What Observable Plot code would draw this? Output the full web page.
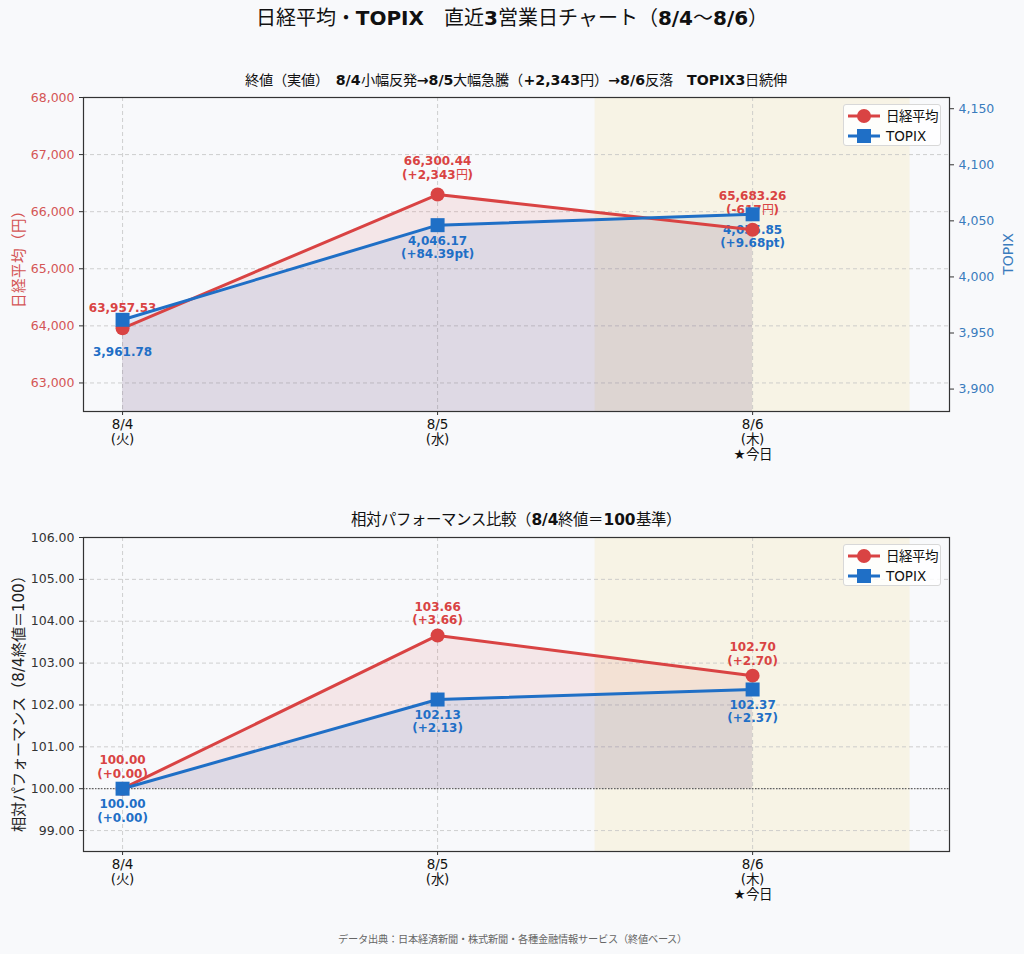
<!DOCTYPE html>
<html><head><meta charset="utf-8">
<script src="https://cdn.jsdelivr.net/npm/d3@7"></script>
<script src="https://cdn.jsdelivr.net/npm/@observablehq/plot@0.6"></script>
<style>
@font-face{font-family:"CJKR";src:local("Noto Sans CJK JP Regular"),local("NotoSansCJKjp-Regular"),local("Noto Sans CJK JP");font-weight:100 900;}
body{margin:0;background:#f8f9fb;width:1024px;height:954px;position:relative;overflow:hidden;font-family:"DejaVu Sans","CJKR","Noto Sans CJK JP",sans-serif;}
.abs{position:absolute;}
.ttl{left:0;width:1024px;text-align:center;font-family:"DejaVu Sans","CJKR","Noto Sans CJK JP",sans-serif;font-weight:bold;color:#111;}
.sub{left:83px;width:866px;text-align:center;font-family:"DejaVu Sans","CJKR","Noto Sans CJK JP",sans-serif;font-weight:bold;font-size:14.2px;line-height:18px;color:#111;}
.ylab{transform:translate(-50%,-50%) rotate(-90deg);white-space:nowrap;font-family:"DejaVu Sans","CJKR","Noto Sans CJK JP",sans-serif;font-size:14.6px;}
.legend{width:98px;height:42px;border:1px solid #d8d8d8;border-radius:3px;background:rgba(255,255,255,0.85);box-sizing:border-box;}
.legend div{position:absolute;left:42px;font-family:"DejaVu Sans","CJKR","Noto Sans CJK JP",sans-serif;font-size:13.5px;line-height:16px;color:#111;}
.legend svg{position:absolute;left:3px;}
.chart{left:0;}
</style></head><body>
<script>
// ---- data ----
const days = ["8/4\n(火)", "8/5\n(水)", "8/6\n(木)\n★今日"];
const nikkei = [63957.53, 66300.44, 65683.26];
const topix = [3961.78, 4046.17, 4055.85];
const nikkeiRel = [100.00, 103.66, 102.70];
const topixRel = [100.00, 102.13, 102.37];
const nikkeiTicks = [63000, 64000, 65000, 66000, 67000, 68000];
const topixTicks = [3900, 3950, 4000, 4050, 4100, 4150];
const relTicks = [99, 100, 101, 102, 103, 104, 105, 106];
const todayBand = [1.5, 2.5];
const seriesNames = ["日経平均", "TOPIX"];

// ---- helpers ----
const RED = "#d94343", BLUE = "#1f6fc6";
const loc = d3.formatLocale({decimal: ".", thousands: ",", grouping: [3], currency: ["", ""], minus: "-"});
const f2 = loc.format(",.2f"), f0s = loc.format("+,.0f"), f2s = loc.format("+,.2f"), f0 = loc.format(",.0f");
const xDomain = [-0.124, 2.625];
const yN = [62500, 68000], yT = [3880, 4160], yR = [98.5, 106];
const toLeft = v => yN[0] + (v - yT[0]) * (yN[1] - yN[0]) / (yT[1] - yT[0]);
const fromLeft = v => yT[0] + (v - yN[0]) * (yT[1] - yT[0]) / (yN[1] - yN[0]);
const FONT = "'DejaVu Sans','CJKR','Noto Sans CJK JP',sans-serif";

const topData = nikkei.map((v, i) => ({
  i, n: v, t: toLeft(topix[i]),
  nLabel: i === 0 ? f2(v) : f2(v) + "\n(" + f0s(v - nikkei[i - 1]) + "円)",
  tLabel: i === 0 ? f2(topix[i]) : f2(topix[i]) + "\n(" + f2s(topix[i] - topix[i - 1]) + "pt)"
}));
const relData = nikkeiRel.map((v, i) => ({
  i, n: v, t: topixRel[i],
  nLabel: f2(v) + "\n(" + f2s(v - 100) + ")",
  tLabel: f2(topixRel[i]) + "\n(" + f2s(topixRel[i] - 100) + ")"
}));

const gridStyle = {stroke: "#c4c4c4", strokeDasharray: "4,3", strokeWidth: 0.8};
const base = (yDomain) => ({
  width: 1024, height: 420, marginTop: 37, marginBottom: 69, marginLeft: 83, marginRight: 75,
  x: {domain: xDomain}, y: {domain: yDomain},
  style: {background: "transparent", fontFamily: FONT, overflow: "visible"}
});
const xAxis = () => Plot.axisX({ticks: [0, 1, 2], tickFormat: i => days[i], label: null, fontSize: 13.5, lineHeight: 1.12, tickSize: 4, stroke: "#333", fill: "#111", tickPadding: 3});
const band = () => Plot.rect([todayBand], {x1: d => d[0], x2: d => d[1], fill: "#f3d77a", fillOpacity: 0.17});

// ---- top chart ----
const chart1 = Plot.plot({
  ...base(yN),
  marks: [
    band(),
    Plot.ruleY(nikkeiTicks, gridStyle),
    Plot.ruleX([0, 1, 2], gridStyle),
    Plot.areaY(topData, {x: "i", y1: yN[0], y2: "n", fill: RED, fillOpacity: 0.1}),
    Plot.areaY(topData, {x: "i", y1: yN[0], y2: "t", fill: BLUE, fillOpacity: 0.1}),
    Plot.text(topData, {x: "i", y: "n", text: "nLabel", lineAnchor: "bottom", dy: -16, fill: RED, fontWeight: "bold", fontSize: 12, lineHeight: 1.12}),
    Plot.text(topData.filter(d => d.i === 0), {x: "i", y: "t", text: "tLabel", lineAnchor: "top", dy: 27, fill: BLUE, fontWeight: "bold", fontSize: 12, lineHeight: 1.12}),
    Plot.text(topData.filter(d => d.i > 0), {x: "i", y: "t", text: "tLabel", lineAnchor: "top", dy: 10, fill: BLUE, fontWeight: "bold", fontSize: 12, lineHeight: 1.12}),
    Plot.line(topData, {x: "i", y: "n", stroke: RED, strokeWidth: 3}),
    Plot.line(topData, {x: "i", y: "t", stroke: BLUE, strokeWidth: 3}),
    Plot.dot(topData, {x: "i", y: "n", r: 7, fill: RED, symbol: "circle"}),
    Plot.dot(topData, {x: "i", y: "t", r: 7.9, fill: BLUE, symbol: "square"}),
    Plot.frame({stroke: "#333", strokeWidth: 1.2}),
    Plot.axisY({anchor: "left", ticks: nikkeiTicks, tickFormat: loc.format(","), label: null, fontSize: 12.5, tickSize: 4, stroke: "#333", fill: "#d45555"}),
    Plot.axisY({anchor: "right", ticks: topixTicks.map(toLeft), tickFormat: d => f0(Math.round(fromLeft(d))), label: null, fontSize: 12.5, tickSize: 4, stroke: "#333", fill: "#3a7cbd"}),
    xAxis()
  ]
});

// ---- bottom chart ----
const chart2 = Plot.plot({
  ...base(yR),
  marks: [
    band(),
    Plot.ruleY(relTicks, gridStyle),
    Plot.ruleX([0, 1, 2], gridStyle),
    Plot.areaY(relData, {x: "i", y1: 100, y2: "n", fill: RED, fillOpacity: 0.1}),
    Plot.areaY(relData, {x: "i", y1: 100, y2: "t", fill: BLUE, fillOpacity: 0.1}),
    Plot.ruleY([100], {stroke: "#444", strokeDasharray: "1.5,1.5", strokeWidth: 1}),
    Plot.text(relData, {x: "i", y: "n", text: "nLabel", lineAnchor: "bottom", dy: -11, fill: RED, fontWeight: "bold", fontSize: 12, lineHeight: 1.12}),
    Plot.text(relData, {x: "i", y: "t", text: "tLabel", lineAnchor: "top", dy: 10, fill: BLUE, fontWeight: "bold", fontSize: 12, lineHeight: 1.12}),
    Plot.line(relData, {x: "i", y: "n", stroke: RED, strokeWidth: 3}),
    Plot.line(relData, {x: "i", y: "t", stroke: BLUE, strokeWidth: 3}),
    Plot.dot(relData, {x: "i", y: "n", r: 7, fill: RED, symbol: "circle"}),
    Plot.dot(relData, {x: "i", y: "t", r: 7.9, fill: BLUE, symbol: "square"}),
    Plot.frame({stroke: "#333", strokeWidth: 1.2}),
    Plot.axisY({anchor: "left", ticks: relTicks, tickFormat: d3.format(".2f"), label: null, fontSize: 12.5, tickSize: 4, stroke: "#333", fill: "#333"}),
    xAxis()
  ]
});

function place(el, topPx) {
  const w = document.createElement("div");
  w.className = "abs chart"; w.style.top = topPx + "px";
  w.appendChild(el); document.body.appendChild(w);
}
function html(cls, style, text) {
  const d = document.createElement("div");
  d.className = "abs " + cls; d.setAttribute("style", style); d.textContent = text;
  document.body.appendChild(d); return d;
}
function legend(topPx) {
  const L = document.createElement("div");
  L.className = "abs legend"; L.style.left = "843px"; L.style.top = topPx + "px";
  L.innerHTML =
    `<svg width="34" height="16" style="top:3px"><line x1="1" x2="33" y1="8" y2="8" stroke="${RED}" stroke-width="3"/><circle cx="17" cy="8" r="7" fill="${RED}"/></svg>` +
    `<div style="top:3px">${seriesNames[0]}</div>` +
    `<svg width="34" height="16" style="top:23px"><line x1="1" x2="33" y1="8" y2="8" stroke="${BLUE}" stroke-width="3"/><rect x="10" y="1" width="14" height="14" fill="${BLUE}"/></svg>` +
    `<div style="top:23px">${seriesNames[1]}</div>`;
  document.body.appendChild(L);
}

html("ttl", "top:4px;font-size:20px;line-height:28px;", "日経平均・TOPIX　直近3営業日チャート（8/4〜8/6）");
html("sub", "top:71px;", "終値（実値）　8/4小幅反発→8/5大幅急騰（+2,343円）→8/6反落　TOPIX3日続伸");
place(chart1, 60);
html("ylab", "left:17px;top:255px;color:#d45555;", "日経平均（円）");
html("ylab", "left:1008px;top:254px;color:#3a7cbd;font-size:14px;", "TOPIX");
legend(104);
html("sub", "top:510px;font-size:15.4px;line-height:20px;", "相対パフォーマンス比較（8/4終値＝100基準）");
place(chart2, 500);
html("ylab", "left:17px;top:700px;color:#222;font-size:15.2px;", "相対パフォーマンス（8/4終値＝100）");
legend(544);
html("ttl", "top:933px;font-size:10.2px;line-height:14px;font-weight:normal;color:#666;", "データ出典：日本経済新聞・株式新聞・各種金融情報サービス（終値ベース）");
</script>
</body></html>
